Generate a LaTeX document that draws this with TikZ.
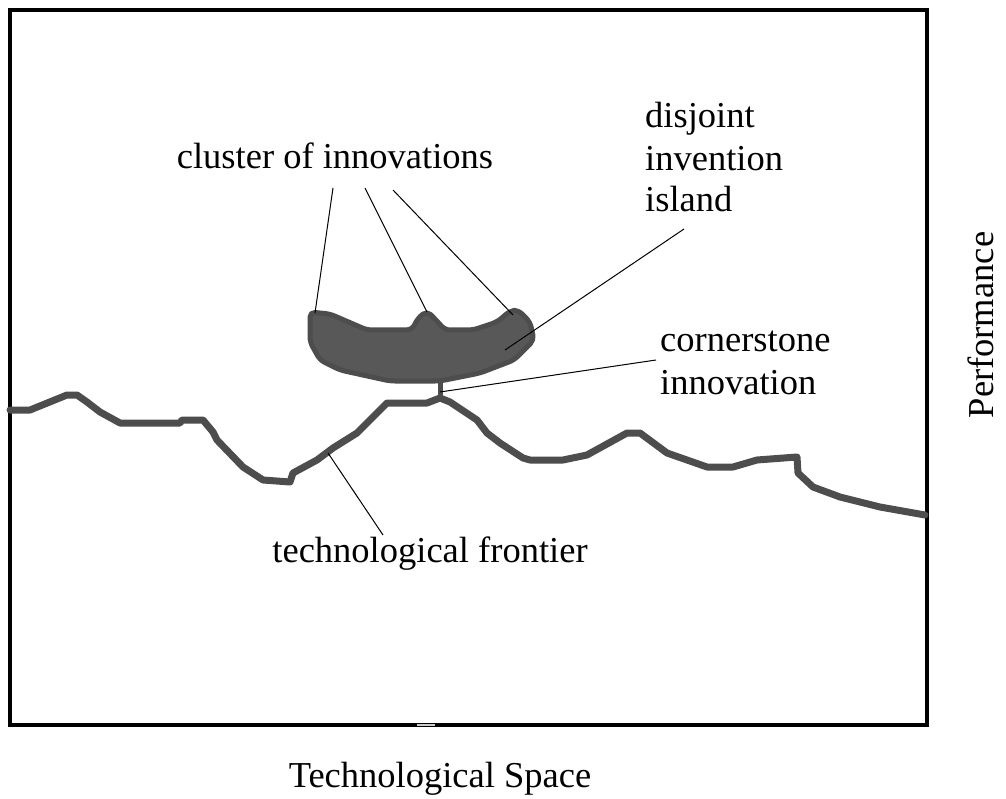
\documentclass[tikz,border=0pt]{standalone}
\usepackage{fontspec}
\setmainfont{Liberation Serif}
\definecolor{ridge}{RGB}{77,77,77}
\definecolor{islandfill}{RGB}{88,88,88}

\begin{document}
\begin{tikzpicture}[x=1pt, y=-1pt,
  label/.style={inner sep=0pt, font=\fontsize{36.5}{41}\selectfont},
  leader/.style={draw=black, line width=1pt},
  frontier/.style={draw=ridge, line width=7pt, line join=round, line cap=round},
]
\useasboundingbox (0,0) rectangle (1006,799);

\draw[line width=4pt] (10,10) rectangle (927,725);
\draw[gray!40, line width=2pt] (417,725) -- (435,725);

\draw[frontier] (10,410) -- (30,410) -- (67,395) -- (77,395) -- (87,402) -- (100,412)
  -- (120,423) -- (180,423) -- (182,420) -- (203,420) -- (213,432) -- (217,440)
  -- (243,467) -- (263,480) -- (290,482) -- (293,473) -- (317,460) -- (333,448)
  -- (357,433) -- (387,403) -- (427,403) -- (440,398) -- (450,402) -- (477,420)
  -- (487,433) -- (500,443) -- (523,458) -- (530,460) -- (563,460) -- (587,455)
  -- (627,433) -- (640,433) -- (667,453) -- (707,467) -- (733,467) -- (757,460)
  -- (797,457) -- (798,473) -- (813,487) -- (840,497) -- (880,507) -- (925,515);

\draw[ridge, line width=5pt] (440,378) -- (440,398);
\draw[draw=ridge, fill=islandfill, line width=5pt, line join=round, rounded corners=5pt]
  (310,312) -- (330,314) -- (367,330) -- (412,330) -- (418,318) -- (427,311)
  -- (436,320) -- (445,330) -- (473,330) -- (497,322) -- (510,311) -- (518,310)
  -- (530,322) -- (534,340) -- (514,360) -- (480,373) -- (440,381) -- (390,381)
  -- (340,370) -- (320,360) -- (310,342) -- cycle;

\node[label, anchor=base] (cluster) at (335,169) {cluster of innovations};
\node[label, anchor=base west] (disjoint) at (645,128) {disjoint};
\node[label, anchor=base west] (invention) at (645,171) {invention};
\node[label, anchor=base west] (island) at (645,212) {island};
\node[label, anchor=base west] (cornerstone) at (660,352) {cornerstone};
\node[label, anchor=base west] (innovation) at (660,394) {innovation};
\node[label, anchor=base] (frontiertext) at (430,562) {technological frontier};
\node[label, anchor=base] (space) at (440,787) {Technological Space};
\node[label, anchor=base, rotate=90] (performance) at (993,325) {Performance};

\coordinate (c1top) at (333,188);
\coordinate (c2top) at (365,188);
\coordinate (c3top) at (393,190);
\coordinate (c1) at (315,313);
\coordinate (c2) at (427,312);
\coordinate (c3) at (513,315);
\coordinate (islandtop) at (684,229);
\coordinate (islandpt) at (505,350);
\coordinate (cornertop) at (656,360);
\coordinate (cornerpt) at (440,392);
\coordinate (frontiertop) at (383,535);
\coordinate (frontierpt) at (328,453);

\draw[leader] (c1top) -- (c1);
\draw[leader] (c2top) -- (c2);
\draw[leader] (c3top) -- (c3);
\draw[leader] (islandtop) -- (islandpt);
\draw[leader] (cornertop) -- (cornerpt);
\draw[leader] (frontiertop) -- (frontierpt);

\end{tikzpicture}
\end{document}
